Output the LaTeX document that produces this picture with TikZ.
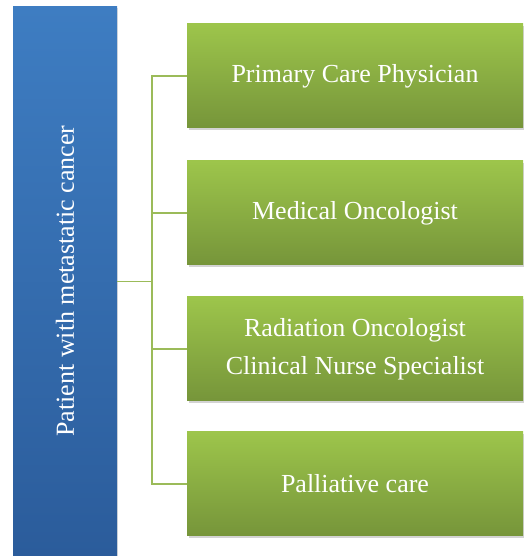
\documentclass[tikz,border=0pt]{standalone}
\usepackage{fontspec}
\setmainfont{Liberation Serif}
\usetikzlibrary{shadows}

\definecolor{bartop}{HTML}{3E7DC2}
\definecolor{barbottom}{HTML}{2B5C9B}
\definecolor{boxtop}{HTML}{9DC54B}
\definecolor{boxbottom}{HTML}{76953A}
\definecolor{linkgreen}{HTML}{9BBB59}

\tikzset{
    rolebox/.style = {draw = none, top color = boxtop, bottom color = boxbottom, minimum width = 336pt, minimum height = 104pt, align = center, text = white, font = \fontsize{26}{38}\selectfont, drop shadow = {opacity = 0.35, shadow xshift = 1.5pt, shadow yshift = -2pt}},
    link/.style = {linkgreen, line width = 1.3pt}
}

\begin{document}
\begin{tikzpicture}[x = 1pt, y = 1pt]
            \useasboundingbox (0, 0) rectangle (523, 556);
            
            \node[draw = none, top color = bartop, bottom color = barbottom, minimum width = 104pt, minimum height = 549pt, drop shadow = {opacity = 0.25, shadow xshift = 1pt, shadow yshift = -1pt}](patient) at (65, 274.5) {};
            \node[rotate = 90, text = white, font = \fontsize{26}{31}\selectfont](patientlabel) at (65, 275) {Patient with metastatic cancer};
            
            \node[rolebox](pcp) at (355, 480) {Primary Care Physician};
            \node[rolebox](onc) at (355, 343) {Medical Oncologist};
            \node[rolebox](rad) at (355, 207) {Radiation Oncologist \\ Clinical Nurse Specialist};
            \node[rolebox](pal) at (355, 72) {Palliative care};
            
            \coordinate (hub) at (152, 274.5);
            \draw[link](patient.east) -- (hub);
            \draw[link](hub) |- (pcp.west);
            \draw[link](hub) |- (onc.west);
            \draw[link](hub) |- (rad.west);
            \draw[link](hub) |- (pal.west);
        \end{tikzpicture}
\end{document}
